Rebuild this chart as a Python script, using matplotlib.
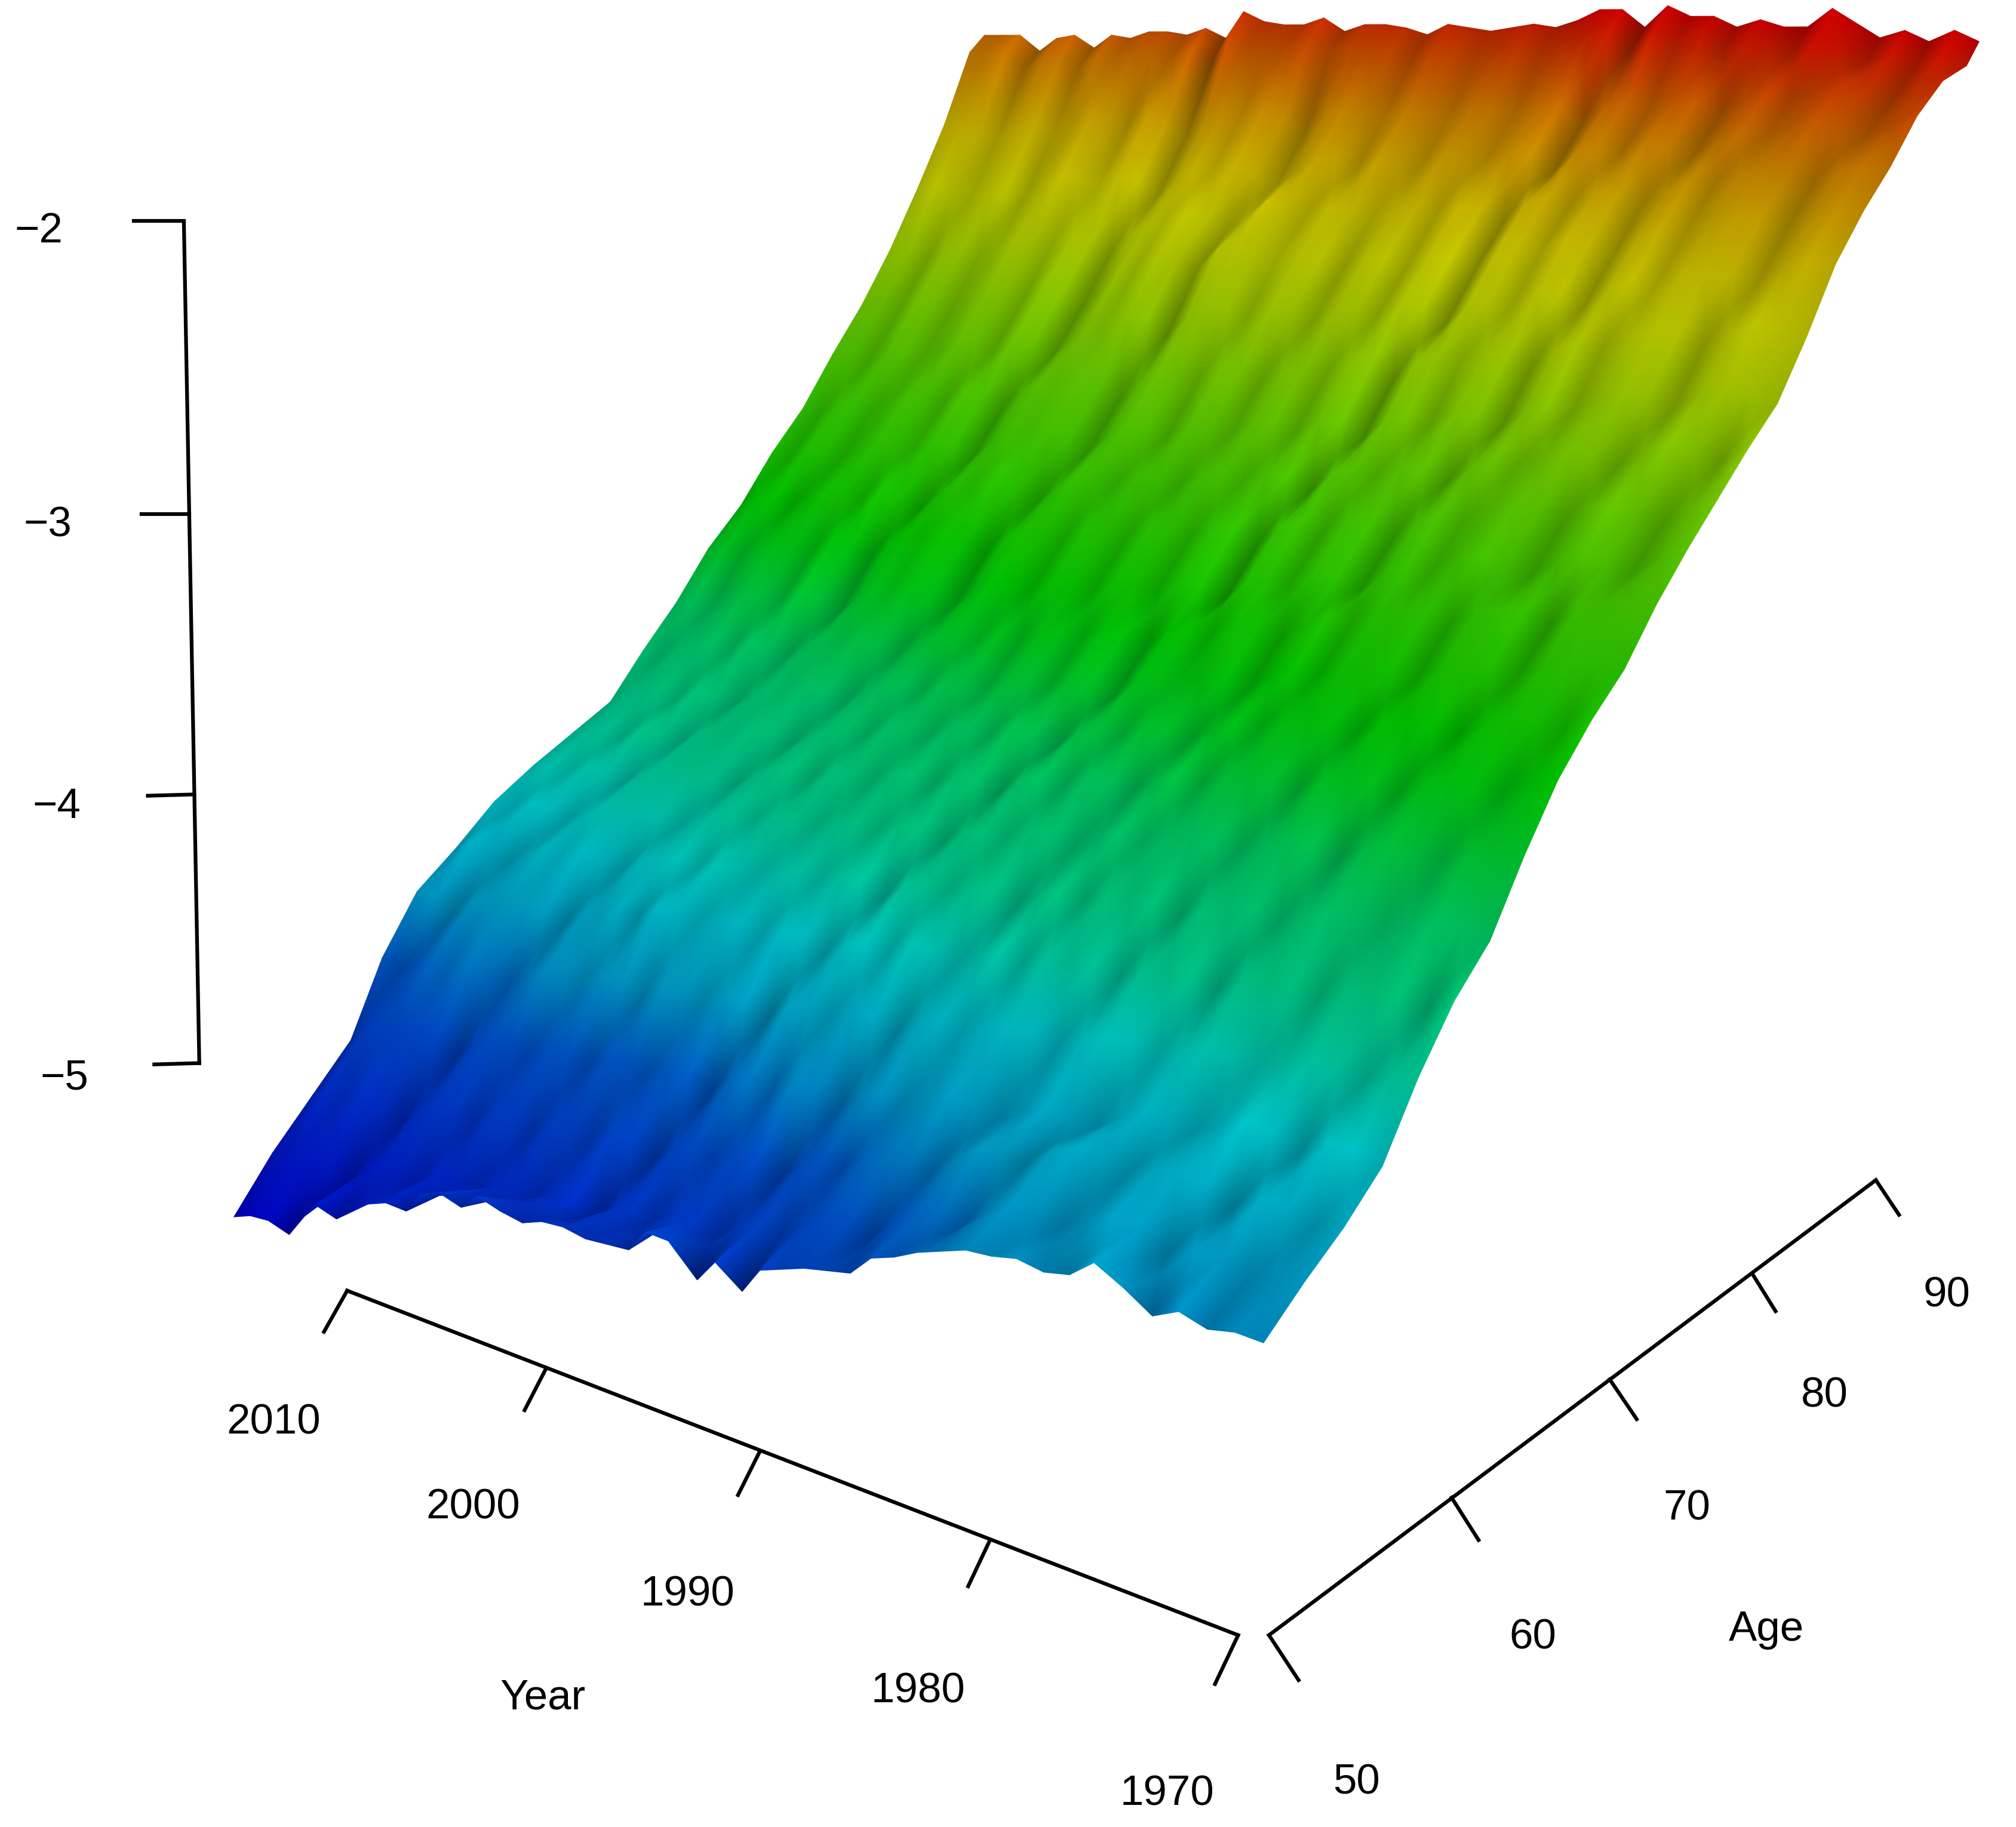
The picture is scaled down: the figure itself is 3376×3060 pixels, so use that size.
import numpy as np
import matplotlib
matplotlib.use("Agg")
import matplotlib.pyplot as plt
from matplotlib.colors import hsv_to_rgb

# Estimated surface: minus the log rate x 100.
# Each list runs from year 2016 (left corner) to 1969 (right corner).
years = list(range(2016, 1968, -1))
ages = [50,52,54,56,58,60,62,64,66,68,70,72,74,76,78,80,82,84,86,88,90,92,94,95]
age_50 = [538,535,534,536,528,521,523,518,513,510,510,502,499,501,495,497,498,495,494,495,494,493,485,485,494,486,492,483,480,477,475,473,466,463,459,456,453,452,450,451,449,443,447,452,448,450,448,448]
age_52 = [524,522,521,522,524,518,514,513,513,509,509,509,505,504,504,500,499,503,496,493,494,490,489,491,486,482,482,477,473,472,473,466,461,459,459,453,448,448,449,445,441,442,446,442,442,444,442,440]
age_54 = [512,507,506,504,506,508,502,498,497,498,494,493,494,490,489,489,485,485,488,482,479,479,476,475,478,472,468,467,462,459,458,458,452,447,446,446,440,437,438,439,435,433,434,438,433,433,435,433]
age_56 = [500,494,490,488,487,488,491,485,481,480,480,477,476,477,473,472,472,469,468,471,465,462,463,459,459,461,456,452,452,449,446,447,448,444,440,441,441,436,432,432,432,428,424,425,428,423,422,424]
age_58 = [479,480,476,472,471,469,470,471,467,463,462,462,459,458,459,455,454,454,451,450,453,447,445,445,442,441,443,438,435,435,432,430,430,431,427,424,424,425,421,418,418,418,415,412,412,413,409,407]
age_60 = [463,463,465,460,457,455,454,454,456,451,448,445,445,440,439,440,438,437,438,435,435,437,432,429,430,426,426,427,423,419,420,416,415,414,416,411,409,408,410,405,403,402,403,399,397,396,398,393]
age_62 = [454,450,451,452,448,444,443,441,442,443,438,435,433,434,430,430,430,427,425,425,422,421,424,418,416,416,413,412,414,409,405,406,402,401,400,402,397,395,394,395,391,388,388,388,385,382,382,383]
age_64 = [444,444,441,441,442,438,434,432,431,431,432,428,424,422,422,419,418,418,415,413,413,410,409,411,406,403,403,400,399,400,396,392,392,389,387,386,387,383,380,379,381,376,373,373,373,369,367,366]
age_66 = [437,435,435,432,432,433,428,424,422,421,421,422,417,413,411,412,408,407,407,403,401,402,398,397,399,393,390,391,387,386,387,382,378,379,375,373,372,373,368,366,365,366,361,358,357,358,354,351]
age_68 = [431,428,426,426,422,422,423,418,415,413,411,411,412,407,403,401,401,397,396,396,392,390,390,386,386,388,382,379,379,375,374,375,370,366,366,362,360,359,360,355,353,352,353,348,345,344,344,340]
age_70 = [425,421,418,416,416,412,412,413,408,404,402,400,400,401,396,392,390,390,386,385,385,381,379,379,375,374,376,370,367,366,364,362,363,358,354,354,350,348,347,348,343,340,339,340,335,332,331,331]
age_72 = [412,412,408,405,403,403,399,399,400,395,391,389,387,387,388,383,379,377,377,374,374,370,368,368,364,363,365,359,356,356,352,351,352,347,343,343,339,337,336,337,332,329,328,330,324,321,319,318]
age_74 = [400,398,398,394,390,389,389,385,386,388,382,377,375,373,374,376,370,365,364,364,360,359,359,355,354,354,350,349,352,345,342,342,338,337,339,333,329,329,325,322,323,324,319,315,315,316,311,307]
age_76 = [386,384,384,380,377,376,376,372,372,374,368,364,362,360,361,363,357,353,352,352,348,347,347,343,342,342,338,337,340,333,330,331,327,326,328,322,318,318,315,312,312,313,308,304,305,306,301,297]
age_78 = [375,371,369,370,366,362,361,361,357,358,360,354,349,347,345,347,349,343,338,337,337,334,333,333,329,327,327,324,323,326,319,316,316,313,312,314,308,304,304,301,298,298,299,294,290,291,292,287]
age_80 = [361,361,357,356,356,352,348,347,347,344,344,346,340,335,333,332,333,335,329,324,323,324,320,319,319,315,313,314,310,309,312,305,302,303,299,298,300,294,290,291,287,284,284,285,280,277,277,278]
age_82 = [349,349,345,343,343,340,336,335,335,331,331,333,327,322,320,319,320,322,316,311,310,310,306,305,306,302,300,300,296,295,298,291,288,288,285,284,286,280,276,276,272,269,269,271,266,262,262,263]
age_84 = [334,334,334,330,328,328,325,321,320,320,316,316,318,312,306,303,300,300,303,296,292,291,292,289,289,290,286,284,284,280,280,283,276,273,273,269,268,270,264,260,260,256,254,254,255,250,246,246]
age_86 = [320,320,320,316,315,315,311,307,306,306,302,302,305,299,292,289,285,285,286,279,276,276,277,275,275,277,273,271,272,268,267,270,263,260,260,256,256,258,252,248,248,244,241,241,243,238,234,234]
age_88 = [304,304,305,301,299,299,296,292,291,291,288,288,290,284,279,276,273,274,276,271,265,265,266,263,263,264,261,259,259,255,255,258,251,248,249,245,244,246,241,237,237,233,231,231,232,227,224,224]
age_90 = [286,284,285,285,282,280,281,277,273,273,273,270,270,273,267,262,261,259,261,263,258,253,252,253,249,249,249,245,244,244,241,240,244,237,234,235,231,231,233,228,224,224,221,218,219,220,216,212]
age_92 = [267,266,266,267,264,262,263,260,256,256,257,253,254,257,251,247,246,244,246,249,243,239,239,239,236,236,236,233,232,232,229,228,232,226,223,224,221,220,223,218,214,215,212,209,210,212,207,204]
age_94 = [245,244,243,247,243,241,243,239,238,236,235,235,232,235,225,226,226,225,223,225,223,222,222,223,219,218,219,217,215,215,212,209,207,211,204,206,205,207,204,204,204,199,201,204,201,203,199,201]
age_95 = [240,239,238,242,237,235,238,233,233,230,229,229,226,228,219,221,221,220,217,220,217,216,216,217,213,213,213,211,209,209,206,202,201,205,198,200,199,201,198,199,198,192,195,198,195,197,193,195]
rows = [age_50,age_52,age_54,age_56,age_58,age_60,age_62,age_64,age_66,age_68,age_70,age_72,
        age_74,age_76,age_78,age_80,age_82,age_84,age_86,age_88,age_90,age_92,age_94,age_95]
neg_z = np.array(rows, float)
Z = -neg_z / 100.0

year_ticks = [2010, 2000, 1990, 1980, 1970]
age_ticks = [50, 60, 70, 80, 90]
z_ticks = [-2, -3, -4, -5]

# axis layout, in the 1568-wide coordinates of the reference
SC = 3376 / 1568
year_at = [(270,1004),(425,1064),(591,1129),(770,1198),(963,1272)]
year_end = [(252,1036),(408,1097),(574,1163),(753,1234),(945,1310)]
year_lab = [(213,1107),(368,1173),(535,1241),(714,1316),(908,1396)]
age_at = [(987,1272),(1129,1165),(1252,1073),(1363,991),(1459,918)]
age_end = [(1010,1307),(1150,1198),(1273,1104),(1381,1020),(1477,945)]
age_lab = [(1055,1387),(1192,1274),(1312,1174),(1419,1086),(1514,1008)]
z_at = [(143,172),(147,400),(151,618),(155,827)]
z_end = [(104,172),(110,400),(115,619),(120,828)]
z_lab = [(30,180),(37,409),(44,628),(50,839)]

# camera: fitted on the box floor and the four surface corners
FLOOR, YEAR_AGE, AGE_YEAR = -5.45, 49.4, 1969.2
anchors = []
for y, p in zip(year_ticks, year_at):
    anchors.append((YEAR_AGE, y, FLOOR, *p, 1.0))
for a, p in zip(age_ticks, age_at):
    anchors.append((a, AGE_YEAR, FLOOR, *p, 1.0))
anchors += [(50,2016,-5.38,180,947,4.0),(50,1969,-4.48,987,1052,4.0),(95,2016,-2.40,767,28,4.0),(95,1969,-1.95,1537,30,4.0)]
anchors = np.array(anchors, float)
centre = np.array([70.0, 1990.0, -3.5]); scale = np.array([20.0, 20.0, 1.5])
W = (anchors[:, :3] - centre) / scale
U = anchors[:, 3:5] * SC / 1000.0
eqs = []
for (a, b, c), (u, v), k in zip(W, U, anchors[:, 5]):
    eqs.append([k*t for t in (a, b, c, 1, 0, 0, 0, 0, -u*a, -u*b, -u*c, -u)])
    eqs.append([k*t for t in (0, 0, 0, 0, a, b, c, 1, -v*a, -v*b, -v*c, -v)])
P = np.linalg.svd(np.array(eqs))[2][-1].reshape(3, 4)

def project(age, year, z):
    age, year, z = np.broadcast_arrays(np.asarray(age, float), np.asarray(year, float), np.asarray(z, float))
    w = np.stack([(age-centre[0])/scale[0], (year-centre[1])/scale[1], (z-centre[2])/scale[2], np.ones(age.shape)], -1)
    h = w @ P.T
    return h[..., 0]/h[..., 2]*1000.0, h[..., 1]/h[..., 2]*1000.0

# colour: rainbow hue by height (with a small left-right calibration), darkened in creases
hue_z = [-5.28, -4.67, -4.58, -4.34, -4.14, -3.89, -3.72, -3.5, -3.17, -2.83, -2.54, -2.32, -2.14, -2.05]
hue_deg = [240, 213, 197, 183, 162, 148, 128, 112, 92, 68, 52, 34, 12, 0]
tilt = 0.2 * (0.5 - np.arange(Z.shape[1]) / (Z.shape[1] - 1))
hue = np.interp(Z + tilt, hue_z, hue_deg) / 360.0
pad = np.pad(-neg_z, ((0, 0), (1, 1)), mode="edge")
lap = pad[:, 1:-1] - 0.5 * (pad[:, :-2] + pad[:, 2:])
grad = 0.5 * (pad[:, 2:] - pad[:, :-2])
value = np.clip(0.70 + 0.036 * lap - 0.008 * (grad - np.median(grad)), 0.30, 0.82)
rgb = hsv_to_rgb(np.dstack([hue, np.ones_like(hue), value]))

AA, YY = np.meshgrid(ages, years, indexing="ij")
X, Y = project(AA, YY, Z)

fig = plt.figure(figsize=(33.76, 30.60), dpi=100, facecolor="white")
ax = fig.add_axes([0, 0, 1, 1])
ax.set_xlim(0, 3376); ax.set_ylim(3060, 0); ax.axis("off")
ax.pcolormesh(X[::-1], Y[::-1], rgb[::-1], shading="gouraud", antialiased=False, rasterized=True)

plt.rcParams["font.family"] = ["Liberation Sans", "DejaVu Sans"]
LW = 4.5
FS = 51

def line(p0, p1):
    ax.plot([p0[0]*SC, p1[0]*SC], [p0[1]*SC, p1[1]*SC], color="black", lw=LW,
            solid_capstyle="projecting", solid_joinstyle="miter")

def axis(at, end, lab, names):
    line(at[0], at[-1])
    for a, e, l, n in zip(at, end, lab, names):
        line(a, e)
        ax.text(l[0]*SC, l[1]*SC, n, ha="center", va="center", fontsize=FS, color="black")

axis(year_at, year_end, year_lab, [str(y) for y in year_ticks])
axis(age_at, age_end, age_lab, [str(a) for a in age_ticks])
axis(z_at, z_end, z_lab, ["\u2212" + str(abs(z)) for z in z_ticks])
ax.text(422*SC, 1321*SC, "Year", ha="center", va="center", fontsize=FS)
ax.text(1374*SC, 1268*SC, "Age", ha="center", va="center", fontsize=FS)

fig.savefig("out.png", dpi=100, facecolor="white")
